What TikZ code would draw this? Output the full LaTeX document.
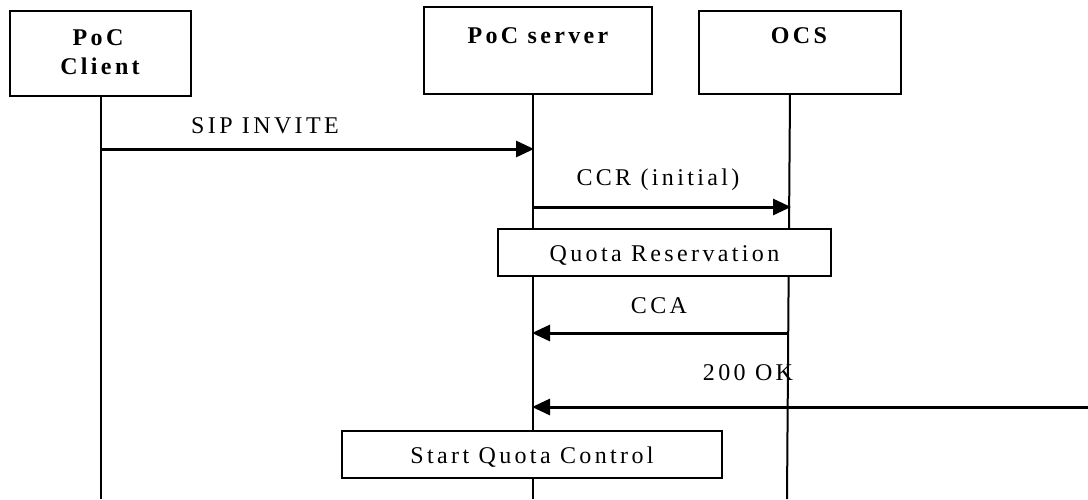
\documentclass[tikz,border=0pt]{standalone}
\usepackage{fontspec}
\setmainfont{Liberation Serif}[LetterSpace=14]
\usetikzlibrary{arrows.meta}
\tikzset{
  lifeline/.style={line width=2pt},
  actorbox/.style={draw, line width=2pt, fill=white, inner sep=0pt},
  actortext/.style={anchor=base, inner sep=0pt, font=\fontsize{24}{29}\selectfont\bfseries},
  msgtext/.style={anchor=base, inner sep=0pt, font=\fontsize{24}{29}\selectfont},
  actbox/.style={draw, line width=1.6pt, fill=white, inner sep=0pt, text height=17pt, text depth=0pt, font=\fontsize{24}{29}\selectfont},
  msg/.style={line width=3pt, -{Triangle[length=18pt,width=16pt]}, shorten >=-1pt}
}
\begin{document}
\begin{tikzpicture}[x=1pt,y=-1pt]
\useasboundingbox (0,0) rectangle (1088,499);
% actor boxes
\node[actorbox, minimum width=181pt, minimum height=85pt] (client) at (100.5,53.5) {};
\node[actorbox, minimum width=228pt, minimum height=87pt] (server) at (538,50.5) {};
\node[actorbox, minimum width=202pt, minimum height=83pt] (ocs) at (800,52.5) {};
\node[actortext] (clientt1) at (98,45) {PoC};
\node[actortext] (clientt2) at (100,74) {Client};
\node[actortext] (servert) at (538,43) {PoC server};
\node[actortext] (ocst) at (799,43) {OCS};
% lifeline ends
\coordinate (clientEnd) at (101,499);
\coordinate (serverEnd) at (533,499);
\coordinate (ocsEnd) at (787,499);
\draw[lifeline] (client.south -| clientEnd) -- (clientEnd);
\draw[lifeline] (server.south -| serverEnd) -- (serverEnd);
\draw[lifeline] (790,94) coordinate (ocsTop) -- (ocsEnd);
% message points
\coordinate (c1) at (101,149);
\coordinate (s1) at (533,149);
\coordinate (s2) at (533,207);
\coordinate (o2) at (790,207);
\coordinate (o3) at (789,333);
\coordinate (s3) at (533,333);
\coordinate (r4) at (1088,407);
\coordinate (s4) at (533,407);
% messages
\draw[msg] (c1) -- (s1);
\node[msgtext] (sipinvite) at (265,133) {SIP INVITE};
\draw[msg] (s2) -- (o2);
\node[msgtext] (ccr) at (658,185) {CCR (initial)};
\node[actbox, minimum width=333pt, minimum height=47pt] (quota) at (664.5,252.5) {Quota Reservation};
\draw[msg] (o3) -- (s3);
\node[msgtext] (cca) at (659,313) {CCA};
\draw[msg] (r4) -- (s4);
\node[msgtext] (ok) at (748,380) {200 OK};
\node[actbox, minimum width=380pt, minimum height=47pt] (sqc) at (532,454.5) {Start Quota Control};
\end{tikzpicture}
\end{document}
